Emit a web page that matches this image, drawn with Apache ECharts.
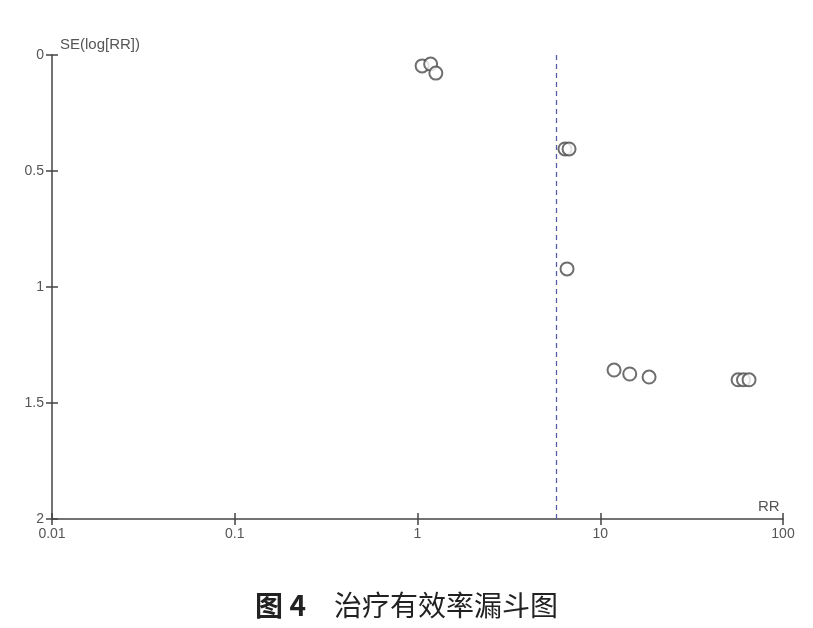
<!DOCTYPE html>
<html>
<head>
<meta charset="utf-8">
<script src="https://cdn.jsdelivr.net/npm/echarts@6/dist/echarts.min.js"></script>
<style>
html,body{margin:0;padding:0;background:#fff;}
#main{width:813px;height:628px;}
</style>
</head>
<body>
<div id="main"></div>
<script>
// RR 与 SE(log[RR])
var rrValues = [1.06, 1.18, 1.26, 6.41, 6.75, 6.58, 11.9, 14.5, 18.5, 56.8, 60.8, 65.2];
var seValues = [0.047, 0.039, 0.078, 0.405, 0.405, 0.922, 1.358, 1.375, 1.388, 1.40, 1.40, 1.40];
var pooledRR = 5.73;
var yTicks = [0, 0.5, 1, 1.5, 2];
var xTicks = [0.01, 0.1, 1, 10, 100];

var points = [];
for (var i = 0; i < rrValues.length; i++) {
	points.push([rrValues[i], seValues[i]]);
}

var axisColor = '#444';
var labelFont = 'Liberation Sans';
var myChart = echarts.init(document.getElementById('main'));
var option = {
	backgroundColor: '#fff',
	animation: false,
	title: {
		text: '{a|图 4}{b|　治疗有效率漏斗图}',
		left: 'center',
		top: 586,
		textStyle: {
			rich: {
				a: {fontSize: 28, fontWeight: 'bold', color: '#222', fontFamily: 'Noto Sans CJK SC'},
				b: {fontSize: 28, fontWeight: 'normal', color: '#222', fontFamily: 'Noto Sans CJK SC'}
			}
		}
	},
	grid: {left: 52, right: 30, top: 55, bottom: 109},
	xAxis: [
		{
			type: 'log',
			logBase: 10,
			min: xTicks[0],
			max: xTicks[xTicks.length - 1],
			position: 'bottom',
			splitLine: {show: false},
			axisLine: {onZero: false, lineStyle: {color: axisColor, width: 1.5}},
			axisTick: {length: 6, lineStyle: {color: axisColor, width: 1.5}},
			axisLabel: {
				color: '#555', fontSize: 14, fontFamily: labelFont, margin: 8,
				formatter: function (v) { return String(v); }
			}
		},
		{
			type: 'log',
			logBase: 10,
			min: xTicks[0],
			max: xTicks[xTicks.length - 1],
			position: 'bottom',
			offset: 0,
			splitLine: {show: false},
			axisLine: {show: false, onZero: false},
			axisTick: {inside: true, length: 6, lineStyle: {color: axisColor, width: 1.5}},
			axisLabel: {show: false}
		}
	],
	yAxis: [
		{
			type: 'value',
			inverse: true,
			min: yTicks[0],
			max: yTicks[yTicks.length - 1],
			interval: 0.5,
			position: 'left',
			splitLine: {show: false},
			axisLine: {onZero: false, lineStyle: {color: axisColor, width: 1.5}},
			axisTick: {length: 6, lineStyle: {color: axisColor, width: 1.5}},
			axisLabel: {color: '#555', fontSize: 14, fontFamily: labelFont, margin: 8}
		},
		{
			type: 'value',
			inverse: true,
			min: yTicks[0],
			max: yTicks[yTicks.length - 1],
			interval: 0.5,
			position: 'left',
			offset: 0,
			splitLine: {show: false},
			axisLine: {show: false, onZero: false},
			axisTick: {inside: true, length: 6, lineStyle: {color: axisColor, width: 1.5}},
			axisLabel: {show: false}
		}
	],
	graphic: [
		{
			type: 'text', left: 60, top: 37,
			style: {text: 'SE(log[RR])', fill: '#555', font: '15px "Liberation Sans"'}
		},
		{
			type: 'text', left: 758, top: 499,
			style: {text: 'RR', fill: '#555', font: '15px "Liberation Sans"'}
		}
	],
	series: [
		{
			type: 'scatter',
			xAxisIndex: 0,
			yAxisIndex: 0,
			data: points,
			symbol: 'emptyCircle',
			symbolSize: 13,
			itemStyle: {color: '#4a4a4a', borderColor: '#4a4a4a', borderWidth: 1.5},
			markLine: {
				silent: true,
				symbol: ['none', 'none'],
				label: {show: false},
				lineStyle: {color: '#5a5ea8', type: [5, 4], width: 1.3},
				data: [{xAxis: pooledRR}]
			}
		}
	]
};
myChart.setOption(option);
</script>
</body>
</html>
